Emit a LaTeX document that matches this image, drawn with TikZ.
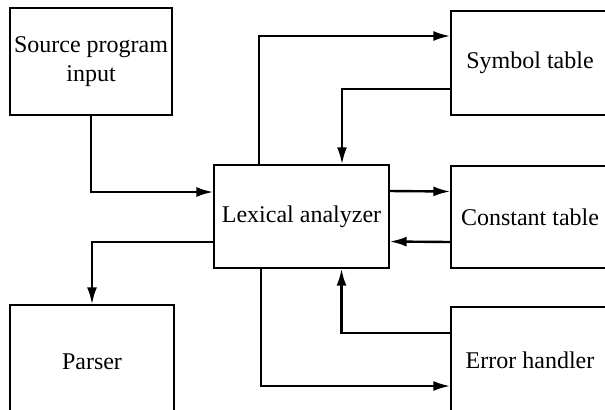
\documentclass[tikz,border=0pt]{standalone}
\usepackage{fontspec}
\setmainfont{Liberation Serif}
\usetikzlibrary{arrows.meta,calc}

\begin{document}
\begin{tikzpicture}[
    x=0.5pt, y=-0.5pt,
    box/.style={draw, line width=0.7pt, align=center, inner sep=0pt, font=\fontsize{12}{14.5}\selectfont},
    flow/.style={->, line width=1.2pt},
    >={Latex[length=8.5pt,width=5pt]}
]
  \useasboundingbox (0,0) rectangle (605,409);
  \clip (0,0) rectangle (605,409);

  \node[box, minimum width=81pt, minimum height=53.5pt] (source) at (91,61.5) {Source program\\input};
  \node[box, minimum width=87.5pt, minimum height=51.5pt] (lexical) at (301.5,216.5) {Lexical analyzer};
  \node[box, minimum width=79pt, minimum height=52pt] (symbol) at (530,63) {Symbol table};
  \node[box, minimum width=79pt, minimum height=51pt] (constant) at (530,217) {Constant table};
  \node[box, minimum width=79pt, minimum height=53pt] (error) at (530,360) {Error handler};
  \node[box, minimum width=82pt, minimum height=57pt] (parser) at (92,362) {Parser};

  \draw[flow] (source.south) |- ([yshift=12.25pt]lexical.west);
  \draw[flow] ([xshift=-21.25pt]lexical.north) |- ([yshift=13.5pt]symbol.west);
  \draw[flow] ([yshift=-13pt]symbol.west) -| ([xshift=20.25pt]lexical.north);
  \draw[flow] ([yshift=12.75pt]lexical.east) -- ([yshift=12.75pt]constant.west);
  \draw[flow] ([yshift=-12.5pt]constant.west) -- ([yshift=-12.5pt]lexical.east);
  \draw[flow] ([yshift=-12.75pt]lexical.west) -| (parser.north);
  \draw[flow] ([xshift=-20.25pt]lexical.south) |- ([yshift=-13pt]error.west);
  \draw[flow] ([yshift=13.5pt]error.west) -| ([xshift=20pt]lexical.south);
\end{tikzpicture}
\end{document}
